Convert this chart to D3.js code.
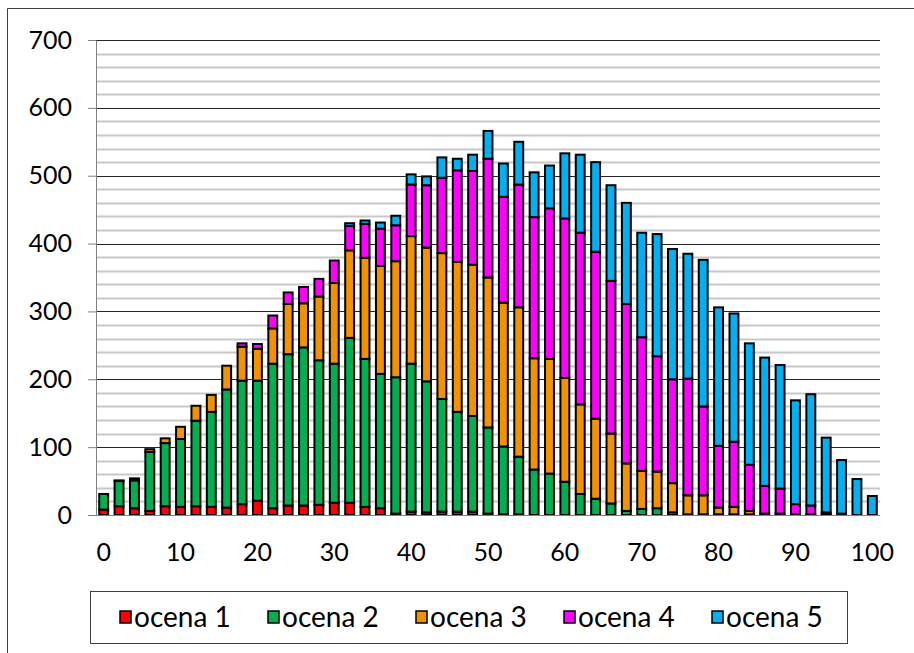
<!DOCTYPE html>
<html>
<head>
<meta charset="utf-8">
<script src="https://cdn.jsdelivr.net/npm/d3@7"></script>
<style>
  body { margin: 0; background: #fff; }
  text { font-family: Lato, "Open Sans", sans-serif; fill: #000; }
</style>
</head>
<body>
<div id="wrapper"></div>
<script>
// points 0..100, every 2
const categories = [0,2,4,6,8,10,12,14,16,18,20,22,24,26,28,30,32,34,36,38,40,42,44,46,48,50,52,54,56,58,60,62,64,66,68,70,72,74,76,78,80,82,84,86,88,90,92,94,96,98,100];
const ocena1 = [8,13,10,6,13,12,13,12,11,16,21,10,14,14,15,18,18,12,10,2,5,4,5,5,5,2,1,1,0,0,0,0,0,0,0,0,0,0,0,0,0,0,0,0,0,0,0,0,0,0,0];
const ocena2 = [23,37,41,87,93,100,126,140,174,182,177,213,223,233,213,205,243,218,198,201,218,193,166,147,141,127,100,85,67,61,49,31,24,17,6,9,10,4,1,1,1,1,1,0,0,0,0,0,0,0,0];
const ocena3 = [0,1,3,4,7,18,22,25,35,50,47,52,74,65,94,119,129,149,159,171,188,197,215,221,223,221,212,220,164,169,153,132,118,103,70,56,54,43,28,28,10,11,5,2,2,1,1,1,0,0,0];
const ocena4 = [0,0,0,0,0,0,0,0,0,5,7,19,17,24,26,33,36,50,55,53,76,92,111,135,138,175,156,181,208,222,235,253,246,225,235,197,170,153,172,131,91,96,68,41,37,15,13,3,2,0,0];
const ocena5 = [0,0,0,0,0,0,0,0,0,0,0,0,0,0,0,0,4,5,9,14,15,13,30,17,24,41,49,63,66,63,96,115,132,141,149,154,180,192,184,216,204,189,179,189,182,153,164,110,79,53,28];
const seriesNames = ["ocena 1","ocena 2","ocena 3","ocena 4","ocena 5"];
const seriesColors = ["#ff0000","#00b050","#f39200","#ff00ff","#00b0f0"];
const yTicks = [0,100,200,300,400,500,600,700];
const xTickLabels = [0,10,20,30,40,50,60,70,80,90,100];

function drawChart(){
    let dimensions = {
        width: 914,
        height: 653,
        margin: { top: 40, right: 34, bottom: 138, left: 96 },
    };
    dimensions.boundedWidth = dimensions.width - dimensions.margin.left - dimensions.margin.right;
    dimensions.boundedHeight = dimensions.height - dimensions.margin.top - dimensions.margin.bottom;

    const svg = d3.select("#wrapper").append("svg")
        .attr("width", dimensions.width)
        .attr("height", dimensions.height);

    // outer chart frame (cut off on the right and bottom)
    svg.append("path")
        .attr("d", "M7.5,660 V8.5 H920")
        .attr("fill", "none")
        .attr("stroke", "#404040")
        .attr("stroke-width", 1);

    const bounds = svg.append("g")
        .attr("transform", `translate(${dimensions.margin.left},${dimensions.margin.top})`);

    // stack the data
    const table = categories.map((c, i) => ({
        cat: c, s0: ocena1[i], s1: ocena2[i], s2: ocena3[i], s3: ocena4[i], s4: ocena5[i]
    }));
    const stack = d3.stack().keys(["s0","s1","s2","s3","s4"])(table);

    const xScale = d3.scaleBand()
        .domain(categories)
        .range([0, dimensions.boundedWidth])
        .paddingInner(0.42)
        .paddingOuter(0.21);

    const yScale = d3.scaleLinear()
        .domain([0, 700])
        .range([dimensions.boundedHeight, 0]);

    // minor gridlines every 20
    const minor = d3.range(20, 701, 20).filter(v => v % 100 !== 0);
    bounds.append("g").selectAll("line")
        .data(minor)
        .join("line")
        .attr("x1", 0)
        .attr("x2", dimensions.boundedWidth)
        .attr("y1", d => Math.round(yScale(d)) + 0.5)
        .attr("y2", d => Math.round(yScale(d)) + 0.5)
        .attr("stroke", "#c8c8c8")
        .attr("stroke-width", 2);

    // major gridlines
    bounds.append("g").selectAll("line")
        .data(yTicks.filter(v => v > 0))
        .join("line")
        .attr("x1", 0)
        .attr("x2", dimensions.boundedWidth)
        .attr("y1", d => Math.round(yScale(d)) + 0.5)
        .attr("y2", d => Math.round(yScale(d)) + 0.5)
        .attr("stroke", "#262626")
        .attr("stroke-width", 1);

    // y axis
    const yAxis = bounds.append("g")
        .call(d3.axisLeft(yScale).tickValues(yTicks).tickSize(8).tickPadding(16).tickSizeOuter(0));
    yAxis.select(".domain").attr("stroke", "#808080");
    yAxis.selectAll(".tick line").attr("stroke", "#808080");
    yAxis.selectAll("text")
        .style("font-family", "Lato, sans-serif")
        .style("font-size", "25px")
        .attr("fill", "#000");

    // bars
    const layers = bounds.append("g").selectAll("g")
        .data(stack)
        .join("g")
        .attr("fill", (d, i) => seriesColors[i]);

    layers.selectAll("rect")
        .data(d => d.filter(p => p[1] - p[0] > 0))
        .join("rect")
        .attr("x", d => xScale(d.data.cat))
        .attr("width", xScale.bandwidth())
        .attr("y", d => yScale(d[1]))
        .attr("height", d => yScale(d[0]) - yScale(d[1]))
        .attr("stroke", "#000")
        .attr("stroke-width", 2);

    // x axis (baseline)
    const xAxis = bounds.append("g")
        .attr("transform", `translate(0,${dimensions.boundedHeight})`)
        .call(d3.axisBottom(xScale).tickValues(xTickLabels).tickSize(0).tickPadding(28));
    xAxis.select(".domain").attr("stroke", "#808080").attr("d", `M-8,0.5H${dimensions.boundedWidth}`);
    xAxis.selectAll("text")
        .style("font-family", "Lato, sans-serif")
        .style("font-size", "25px")
        .attr("fill", "#000");

    // legend
    const legend = svg.append("g");
    legend.append("rect")
        .attr("x", 90.5)
        .attr("y", 591.5)
        .attr("width", 757)
        .attr("height", 52)
        .attr("fill", "#fff")
        .attr("stroke", "#404040")
        .attr("stroke-width", 1);

    const items = legend.selectAll("g")
        .data(seriesNames)
        .join("g")
        .attr("transform", (d, i) => `translate(${120 + i * 148},617)`);
    items.append("rect")
        .attr("x", 0)
        .attr("y", -6)
        .attr("width", 11)
        .attr("height", 12)
        .attr("fill", (d, i) => seriesColors[i])
        .attr("stroke", "#000")
        .attr("stroke-width", 1.5);
    items.append("text")
        .attr("x", 14)
        .attr("y", 0)
        .attr("dy", "0.35em")
        .style("font-size", "28px")
        .text(d => d);
}

drawChart();
</script>
</body>
</html>
